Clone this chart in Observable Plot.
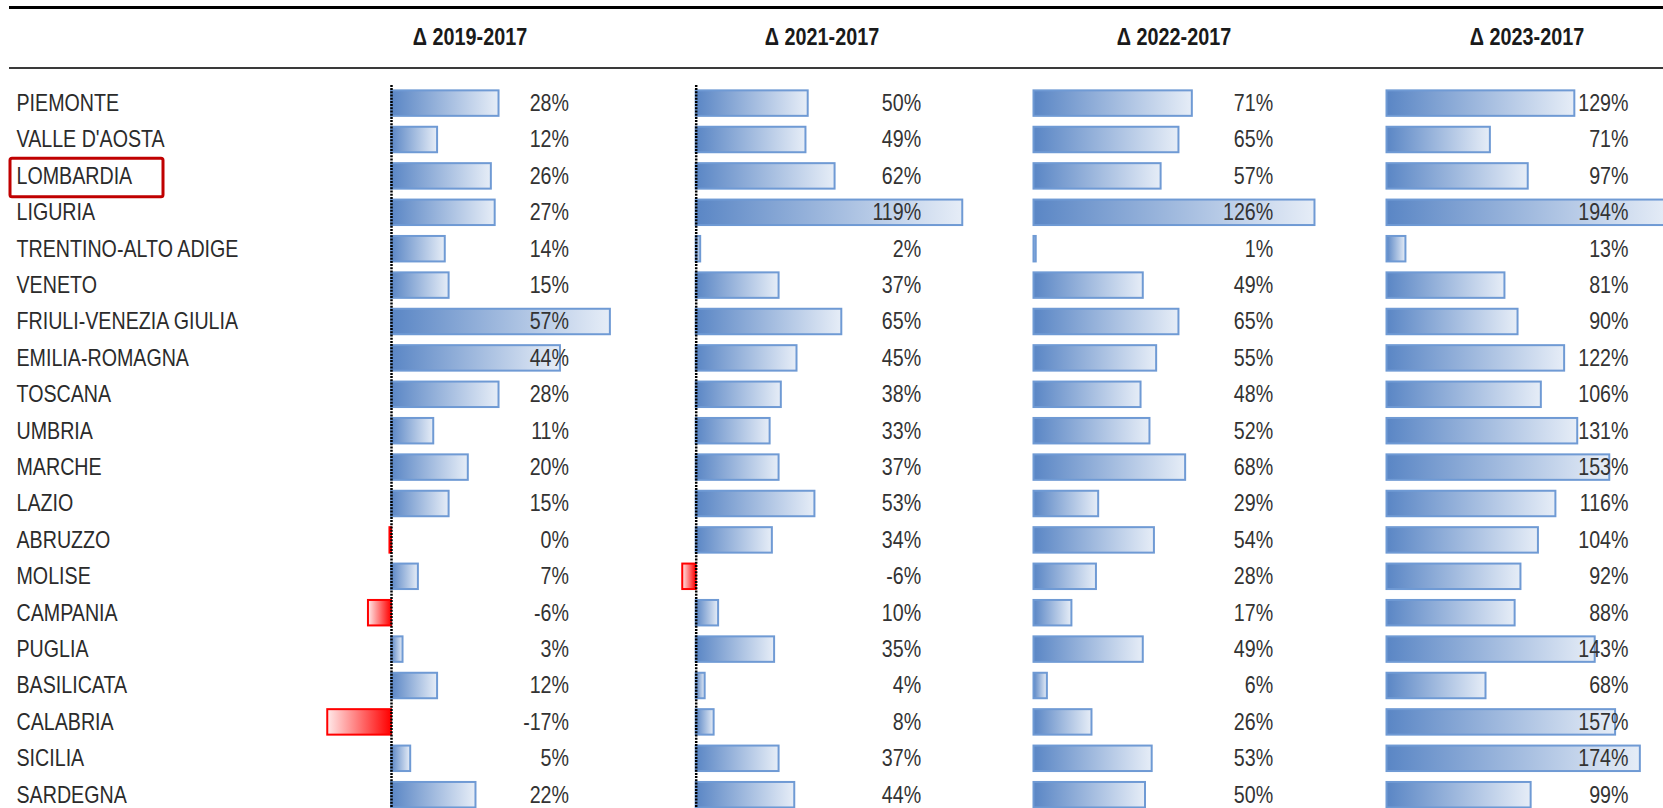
<!DOCTYPE html>
<html>
<head>
<meta charset="utf-8">
<script src="https://cdn.jsdelivr.net/npm/d3@7"></script>
<script src="https://cdn.jsdelivr.net/npm/@observablehq/plot@0.6"></script>
<style>
  html, body { margin: 0; padding: 0; background: #fff; }
  #chart { position: relative; width: 1663px; height: 808px; overflow: hidden; background: #fff;
           font-family: "Liberation Sans", Arial, sans-serif; }
  #chart > svg { position: absolute; left: 0; top: 0; }
  .hline { position: absolute; left: 9px; right: 0; }
  .head { position: absolute; font-weight: bold; font-size: 23px; color: #1a1a1a; white-space: nowrap;
          transform: translate(-50%, -50%) scaleX(0.86); line-height: 1; }
</style>
</head>
<body>
<div id="chart"></div>
<script>
// ---------- data ----------
const regions = ["PIEMONTE", "VALLE D'AOSTA", "LOMBARDIA", "LIGURIA", "TRENTINO-ALTO ADIGE", "VENETO",
  "FRIULI-VENEZIA GIULIA", "EMILIA-ROMAGNA", "TOSCANA", "UMBRIA", "MARCHE", "LAZIO", "ABRUZZO",
  "MOLISE", "CAMPANIA", "PUGLIA", "BASILICATA", "CALABRIA", "SICILIA", "SARDEGNA"];
const delta2019 = [28, 12, 26, 27, 14, 15, 57, 44, 28, 11, 20, 15, -0.4, 7, -6, 3, 12, -16.6, 5, 22];
const delta2021 = [50, 49, 62, 119, 2, 37, 65, 45, 38, 33, 37, 53, 34, -6, 10, 35, 4, 8, 37, 44];
const delta2022 = [71, 65, 57, 126, 1, 49, 65, 55, 48, 52, 68, 29, 54, 28, 17, 49, 6, 26, 53, 50];
const delta2023 = [129, 71, 97, 194, 13, 81, 90, 122, 106, 131, 153, 116, 104, 92, 88, 143, 68, 157, 174, 99];
const columnTitles = ["Δ 2019-2017", "Δ 2021-2017", "Δ 2022-2017", "Δ 2023-2017"];
const highlighted = ["LOMBARDIA"];
const seriesList = [delta2019, delta2021, delta2022, delta2023];

// ---------- layout ----------
const W = 1663, SVG_H = 813;
const rowTop = 84.9, rowBottom = 812.9;
const narrow = 0.855; // horizontal condensing to mimic Arial Narrow
const panelLayout = [
  {zero: 391, k: 3.84, labelRight: 568.5, head: 470},
  {zero: 695.7, k: 2.24, labelRight: 920.7, head: 822},
  {zero: 1033.5, k: 2.23, labelRight: 1272.7, head: 1174},
  {zero: 1386.5, k: 1.456, labelRight: 1628, head: 1527}
];
const fontFamily = '"Liberation Sans", Arial, sans-serif';
const yScale = {domain: regions, axis: null, paddingInner: 0.3, paddingOuter: 0.15, round: false};

const chart = document.getElementById("chart");

function condense(svg) {
  svg.querySelectorAll("text").forEach(t => {
    const xa = t.getAttribute("x");
    let extra = "";
    if (xa !== null && xa !== "" && !isNaN(+xa)) {
      extra = ` translate(${+xa},0)`;
      t.removeAttribute("x");
    }
    const tr = t.getAttribute("transform") || "";
    t.setAttribute("transform", `${tr}${extra} scale(${narrow},1)`);
  });
  return svg;
}

// gradient defs
chart.insertAdjacentHTML("beforeend", `
<svg width="0" height="0" style="position:absolute">
  <defs>
    <linearGradient id="gradPos" x1="0" x2="1" y1="0" y2="0">
      <stop offset="0" stop-color="#5a86c5"/>
      <stop offset="1" stop-color="#e6edf7"/>
    </linearGradient>
    <linearGradient id="gradNeg" x1="0" x2="1" y1="0" y2="0">
      <stop offset="0" stop-color="#ffeaea"/>
      <stop offset="1" stop-color="#ff0000"/>
    </linearGradient>
  </defs>
</svg>`);

// header lines and titles
const top1 = document.createElement("div");
top1.className = "hline"; top1.style.top = "6px"; top1.style.height = "3px"; top1.style.background = "#000";
chart.appendChild(top1);
const top2 = document.createElement("div");
top2.className = "hline"; top2.style.top = "67px"; top2.style.height = "2px"; top2.style.background = "#3a3a3a";
chart.appendChild(top2);
columnTitles.forEach((t, i) => {
  const d = document.createElement("div");
  d.className = "head";
  d.textContent = t;
  d.style.left = panelLayout[i].head + "px";
  d.style.top = "37px";
  chart.appendChild(d);
});

// region labels + highlight box
const labelW = 360;
const labelPlot = Plot.plot({
  width: labelW, height: SVG_H,
  marginTop: rowTop, marginBottom: SVG_H - rowBottom, marginLeft: 10, marginRight: labelW - 163,
  y: yScale,
  style: {background: "transparent", overflow: "visible", fontFamily},
  marks: [
    Plot.cell(highlighted, {y: d => d, fill: "none", stroke: "#c00000", strokeWidth: 3, rx: 2,
      insetTop: -5, insetBottom: -8}),
    Plot.text(regions, {y: d => d, text: d => d, frameAnchor: "left", textAnchor: "start", dx: 6,
      fill: "#2b2b2b", fontSize: 23})
  ]
});
chart.appendChild(condense(labelPlot));

// four panels
seriesList.forEach((values, i) => {
  const L = panelLayout[i];
  const data = regions.map((r, j) => ({region: r, value: values[j]}));
  const left = L.zero - 90;
  const d0 = (left - L.zero) / L.k;
  const d1 = (L.labelRight - L.zero) / L.k;
  const hasNeg = d3.min(values) < 0;
  const p = Plot.plot({
    width: W, height: SVG_H,
    marginTop: rowTop, marginBottom: SVG_H - rowBottom,
    marginLeft: left, marginRight: W - L.labelRight,
    x: {domain: [d0, d1], axis: null},
    y: yScale,
    style: {background: "transparent", overflow: "visible", fontFamily},
    marks: [
      Plot.barX(data, {filter: d => d.value >= 0, x: "value", y: "region",
        fill: "url(#gradPos)", stroke: "#6f9ad4", strokeWidth: 2}),
      Plot.barX(data, {filter: d => d.value < 0, x: "value", y: "region",
        fill: "url(#gradNeg)", stroke: "#ff0000", strokeWidth: 2}),
      hasNeg ? Plot.ruleX([0], {stroke: "#000", strokeWidth: 2.5, strokeDasharray: "2,1.2"}) : null,
      Plot.text(data, {y: "region", text: d => Math.round(d.value) + "%", frameAnchor: "right",
        textAnchor: "end", fill: "#333", fontSize: 23})
    ]
  });
  chart.appendChild(condense(p));
});
</script>
</body>
</html>
